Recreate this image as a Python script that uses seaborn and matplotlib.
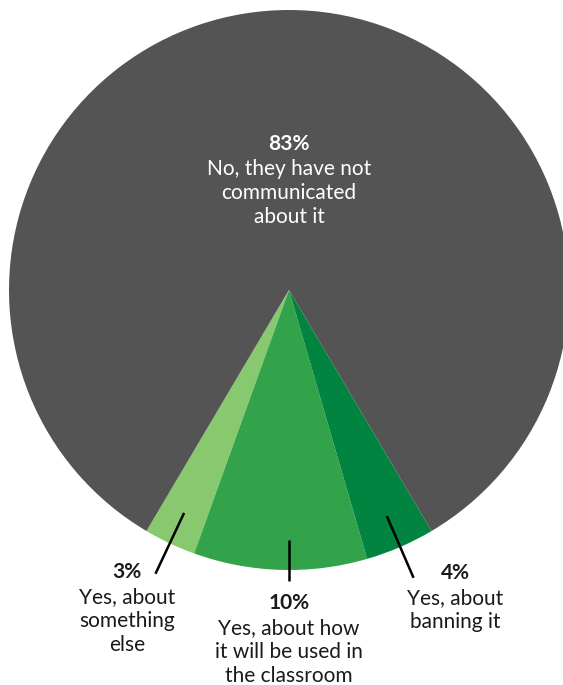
import matplotlib
matplotlib.use("Agg")
import matplotlib.pyplot as plt
import numpy as np
import seaborn as sns

sns.set_theme(style="white")
plt.rcParams["font.family"] = ["Lato", "DejaVu Sans"]

# Survey answers (share of respondents, %)
answers = ["Yes, about something else",
           "Yes, about how it will be used in the classroom",
           "Yes, about banning it",
           "No, they have not communicated about it"]
shares = [3, 10, 4, 83]
pct_labels = ["3%", "10%", "4%", "83%"]
desc_labels = ["Yes, about\nsomething\nelse",
               "Yes, about how\nit will be used in\nthe classroom",
               "Yes, about\nbanning it",
               "No, they have not\ncommunicated\nabout it"]
colors = ["#88c96f", "#33a34b", "#00843f", "#545454"]

W, H, DPI = 563, 685, 100
CX, CY, R = 289, 290, 280  # pie centre and radius in pixels

fig = plt.figure(figsize=(W / DPI, H / DPI), dpi=DPI)
ax = fig.add_axes([0, 0, 1, 1])

# green slices sit symmetric around the bottom of the pie
green_span = sum(shares[:3]) / 100 * 360
start = 270 - green_span / 2
wedges, _ = ax.pie(shares, colors=colors, startangle=start, counterclock=True,
                   radius=1, center=(0, 0), frame=True,
                   wedgeprops=dict(linewidth=0))
ax.set_xlim(-CX / R, (W - CX) / R)
ax.set_ylim((CY - H) / R, CY / R)
ax.set_aspect("equal")
ax.axis("off")


def px(x, y):
    return (x - CX) / R, (CY - y) / R


# leader lines for the green slices
mids = [(w.theta1 + w.theta2) / 2 for w in wedges[:3]]
leader_angles = [mids[0], 270, mids[2]]
leader_r = [(0.88, 1.12), (0.893, 1.04), (0.88, 1.12)]
for ang, (r0, r1) in zip(leader_angles, leader_r):
    a = np.deg2rad(ang)
    ax.plot([r0 * np.cos(a), r1 * np.cos(a)], [r0 * np.sin(a), r1 * np.sin(a)],
            color="black", lw=1.8, solid_capstyle="butt")

FS = 15
label_pos = [(127, 572), (289, 603), (455, 573), (289, 144)]
text_col = ["#1a1a1a", "#1a1a1a", "#1a1a1a", "white"]
for (x, y), p, d, c in zip(label_pos, pct_labels, desc_labels, text_col):
    tx, ty = px(x, y)
    ax.text(tx, ty, p, ha="center", va="center", fontsize=FS,
            fontweight="bold", color=c)
    dx, dy = px(x, y + 15)
    ax.text(dx, dy, d, ha="center", va="top", fontsize=FS, color=c,
            linespacing=1.25)

fig.savefig("out.png", dpi=DPI)
